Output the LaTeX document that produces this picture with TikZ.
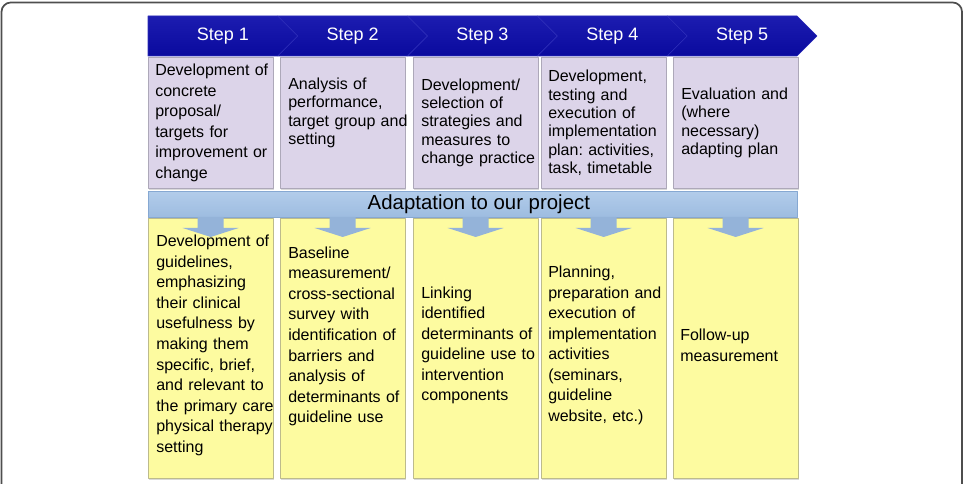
\documentclass[tikz,border=0pt]{standalone}
\usepackage{fontspec}
\setmainfont{Liberation Sans}
\usepackage{xcolor}
\usepackage{tikz}
\usetikzlibrary{calc,shadows}
\frenchspacing
\definecolor{stepblue}{HTML}{0A0A9E}
\definecolor{steptop}{HTML}{1C1CB0}
\definecolor{stepedge}{HTML}{2C2CB8}
\definecolor{lavfill}{HTML}{DCD4E9}
\definecolor{lavline}{HTML}{ADA8B9}
\definecolor{bartop}{HTML}{B2CCEA}
\definecolor{barblue}{HTML}{9DBCE0}
\definecolor{barline}{HTML}{86A8D2}
\definecolor{arrowblue}{HTML}{94B3D9}
\definecolor{yelfill}{HTML}{FDFBA0}
\definecolor{yelline}{HTML}{BDBB8C}
\definecolor{framegray}{HTML}{4E4E4E}
\tikzset{
  every node/.append style={font=\rmfamily},
  chevron/.style={top color=steptop,bottom color=stepblue,draw=stepedge,line width=.4pt},
  steplabel/.style={text=white,font=\fontsize{13.5}{16}\selectfont,inner sep=0pt},
  box/.style={line width=.6pt,minimum width=93.4pt,inner sep=0pt,anchor=north west,
    drop shadow={shadow xshift=.7pt,shadow yshift=-.9pt,opacity=.3}},
  planbox/.style={box,fill=lavfill,draw=lavline,minimum height=98.2pt},
  workbox/.style={box,fill=yelfill,draw=yelline,minimum height=195pt},
  boxtext/.style={align=left,text width=90pt,inner sep=0pt,anchor=west,
    font=\fontsize{12}{15.4}\selectfont},
  plantext/.style={boxtext,font=\fontsize{12}{13.8}\selectfont},
}

\begin{document}
\begin{tikzpicture}[x=0.75pt,y=-0.75pt,line join=round]
  \useasboundingbox (0,0) rectangle (965,484);
  % frame, cut off at the bottom
  \draw[framegray,line width=1.3pt,rounded corners=7] (1.5,484) |- (962,2.5) -- (962,484);
  % the five step chevrons
  \foreach \i in {1,...,5}{
    \pgfmathsetmacro\L{148+(\i-1)*129.8}
    \pgfmathsetmacro\R{\L+129.8}
    \pgfmathsetmacro\N{ifthenelse(\i==1,\L,\L+20)}
    \draw[chevron] (\L,16) -- (\R,16) -- (\R+20,36) -- (\R,56) -- (\L,56) -- (\N,36) -- cycle;
    \node[steplabel] (step\i) at ({(\L+\R)/2+10},36) {Step \i};
  }
  % columns
  \foreach \x [count=\i] in {148,280,413,541,673}{
    \node[planbox] (plan\i) at (\x,57) {};
    \node[workbox] (work\i) at (\x,218) {};
  }
  \node[top color=bartop,bottom color=barblue,draw=barline,line width=.5pt,anchor=north west,
    inner sep=0pt,minimum width=486.8pt,minimum height=19.5pt] (adapt) at (148,191) {};
  \node[font=\fontsize{15.3}{18}\selectfont,inner sep=0pt] (adapttext)
    at ($(adapt.center)+(6,0)$) {Adaptation to our project};
  % fat arrows from the bar into each column
  \foreach \i in {1,...,5}
    \fill[arrowblue] ($(work\i.north)+(-13,-1)$) -- ++(26,0) -- ++(0,11) -- ++(15,0)
      -- ++(-28,9) -- ++(-28,-9) -- ++(15,0) -- cycle;
  % texts of the upper row
  \node[boxtext] (plantext1) at ($(plan1.west)+(7,0)$)
    {Development of\\concrete\\proposal/\\targets for\\improvement or\\change};
  \node[plantext] (plantext2) at ($(plan2.west)+(8,-10)$)
    {Analysis of\\performance,\\target group and\\setting};
  \node[plantext] (plantext3) at ($(plan3.west)+(8,0)$)
    {Development/\\selection of\\strategies and\\measures to\\change practice};
  \node[plantext] (plantext4) at ($(plan4.west)+(7,0)$)
    {Development,\\testing and\\execution of\\implementation\\plan: activities,\\task, timetable};
  \node[plantext] (plantext5) at ($(plan5.west)+(8,0)$)
    {Evaluation and\\(where\\necessary)\\adapting plan};
  % texts of the lower row
  \node[boxtext] (worktext1) at ($(work1.west)+(8,-3)$)
    {Development of\\guidelines,\\emphasizing\\their clinical\\usefulness by\\making them\\specific, brief,\\and relevant to\\the primary care\\physical therapy\\setting};
  \node[boxtext] (worktext2) at ($(work2.west)+(8,-12)$)
    {Baseline\\measurement/\\cross-sectional\\survey with\\identification of\\barriers and\\analysis of\\determinants of\\guideline use};
  \node[boxtext] (worktext3) at ($(work3.west)+(8,-3)$)
    {Linking\\identified\\determinants of\\guideline use to\\intervention\\components};
  \node[boxtext] (worktext4) at ($(work4.west)+(7,-3)$)
    {Planning,\\preparation and\\execution of\\implementation\\activities\\(seminars,\\guideline\\website, etc.)};
  \node[boxtext] (worktext5) at ($(work5.west)+(7,-3)$)
    {Follow-up\\measurement};
\end{tikzpicture}
\end{document}
